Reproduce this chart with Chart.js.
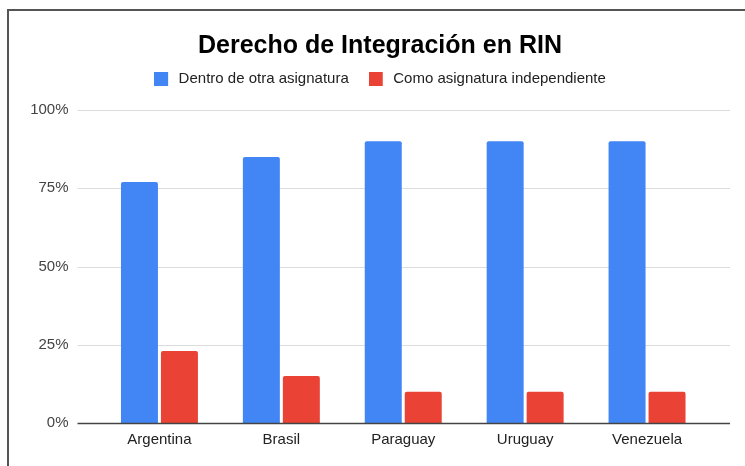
<!DOCTYPE html>
<html>
<head>
<meta charset="utf-8">
<script src="https://cdn.jsdelivr.net/npm/chart.js@4"></script>
<style>
  body { margin: 0; background: #fff; }
  #wrap { width: 745px; height: 466px; position: relative; }
</style>
</head>
<body>
<div id="wrap"><canvas id="rinChart" width="745" height="466"></canvas></div>
<script>
const paises = ['Argentina', 'Brasil', 'Paraguay', 'Uruguay', 'Venezuela'];
const dentroDeOtra = [77, 85, 90, 90, 90];
const independiente = [23, 15, 10, 10, 10];
const yTicks = [0, 25, 50, 75, 100];

const FONT = "'Liberation Sans', Arial, sans-serif";
const AZUL = '#4285F4';
const ROJO = '#EA4335';

// legend swatch: 14px square with some blank space after it
function swatch(color) {
    const c = document.createElement('canvas');
    c.width = 17;
    c.height = 14;
    const g = c.getContext('2d');
    g.fillStyle = color;
    g.fillRect(0, 0, 14, 14);
    return c;
}

// gridlines run a bit past the category area, like the original
const wideGrid = {
    id: 'wideGrid',
    beforeInit(chart) {
        // extra room under the legend
        const fit = chart.legend.fit;
        chart.legend.fit = function () {
            fit.call(this);
            this.height += 14;
        };
    },
    afterLayout(chart) {
        // the y labels sit left of the narrow axis box; don't clip them
        chart.scales.y.left = 0;
    },
    beforeDatasetsDraw(chart) {
        const { ctx, chartArea, scales } = chart;
        ctx.save();
        ctx.strokeStyle = '#dcdcdc';
        ctx.lineWidth = 1;
        yTicks.forEach(v => {
            if (v === 0) return;
            const y = Math.round(scales.y.getPixelForValue(v)) + 0.5;
            ctx.beginPath();
            ctx.moveTo(chartArea.left - 21, y);
            ctx.lineTo(chartArea.right + 22, y);
            ctx.stroke();
        });
        ctx.restore();
    },
    afterDatasetsDraw(chart) {
        const { ctx, chartArea, scales } = chart;
        const y = Math.round(scales.y.getPixelForValue(0)) + 0.5;
        ctx.save();
        ctx.strokeStyle = '#444';
        ctx.lineWidth = 1.3;
        ctx.beginPath();
        ctx.moveTo(chartArea.left - 21, y);
        ctx.lineTo(chartArea.right + 22, y);
        ctx.stroke();
        ctx.restore();
    },
    afterDraw(chart) {
        // frame on top and left edge
        const ctx = chart.ctx;
        ctx.save();
        ctx.strokeStyle = '#555';
        ctx.lineWidth = 2;
        ctx.beginPath();
        ctx.moveTo(8, 466);
        ctx.lineTo(8, 10);
        ctx.lineTo(745, 10);
        ctx.stroke();
        ctx.restore();
    }
};

new Chart(document.getElementById('rinChart'), {
    type: 'bar',
    data: {
        labels: paises,
        datasets: [
            { label: 'Dentro de otra asignatura', data: dentroDeOtra, backgroundColor: AZUL, borderRadius: 2, borderSkipped: 'start', pointStyle: swatch(AZUL) },
            { label: 'Como asignatura independiente', data: independiente, backgroundColor: ROJO, borderRadius: 2, borderSkipped: 'start', pointStyle: swatch(ROJO) }
        ]
    },
    options: {
        responsive: false,
        animation: false,
        categoryPercentage: 0.656,
        barPercentage: 0.925,
        layout: { padding: { left: 52, right: 37, top: 18, bottom: 9 } },
        plugins: {
            title: {
                display: true,
                text: 'Derecho de Integración en RIN',
                color: '#000',
                font: { family: FONT, size: 25, weight: 'bold' },
                padding: { top: 13, bottom: -10 }
            },
            legend: {
                labels: {
                    color: '#222',
                    font: { family: FONT, size: 15 },
                    usePointStyle: true,
                    pointStyleWidth: 17,
                    boxHeight: 14,
                    padding: 20
                }
            },
            tooltip: { enabled: false }
        },
        scales: {
            x: {
                grid: { display: false, drawTicks: false },
                border: { display: false },
                ticks: { color: '#222', font: { family: FONT, size: 15 }, padding: 8 }
            },
            y: {
                min: 0,
                max: 100,
                grid: { display: false, drawTicks: false },
                border: { display: false },
                afterFit(scale) { scale.width = 46.5; },
                ticks: {
                    stepSize: 25,
                    color: '#444',
                    padding: 30,
                    font: { family: FONT, size: 15 },
                    callback: v => v + '%'
                }
            }
        }
    },
    plugins: [wideGrid]
});
</script>
</body>
</html>
